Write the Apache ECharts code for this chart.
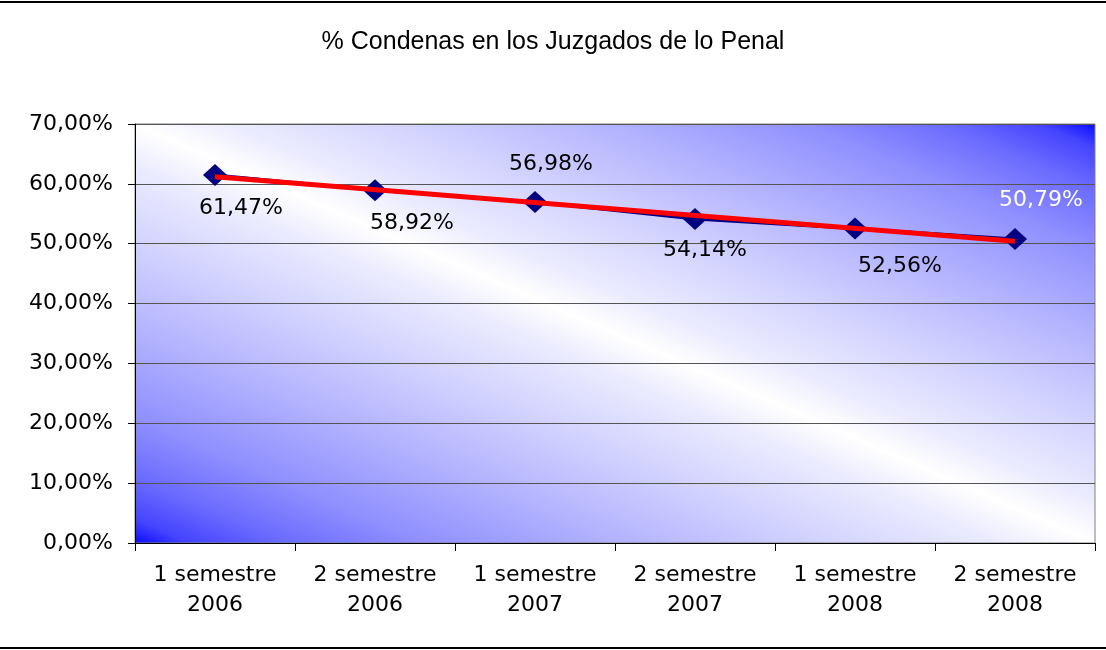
<!DOCTYPE html>
<html>
<head>
<meta charset="utf-8">
<script src="https://cdn.jsdelivr.net/npm/echarts@6/dist/echarts.min.js"></script>
<style>
html,body{margin:0;padding:0;background:#fff;}
#chart{width:1106px;height:650px;}
</style>
</head>
<body>
<div id="chart"></div>
<script>
const categories = ['1 semestre\n2006', '2 semestre\n2006', '1 semestre\n2007', '2 semestre\n2007', '1 semestre\n2008', '2 semestre\n2008'];
const condenas = [61.47, 58.92, 56.98, 54.14, 52.56, 50.79];
const trendEnds = [61.2, null, null, null, null, 50.4];
const labelPlacement = [[26, 33], [37, 33], [16, -38], [10, 31], [45, 38], [26, -39]];
const labelColors = ['#000', '#000', '#000', '#000', '#000', '#fff'];

const fmt = v => v.toFixed(2).replace('.', ',') + '%';
const FONT = 'DejaVu Sans';

const bg = {
  type: 'linear', x: 0.34, y: 1.34, x2: 0.66, y2: -0.34,
  colorStops: [
    {offset: 0, color: 'rgb(8,8,255)'},
    {offset: 0.03, color: 'rgb(68,68,255)'},
    {offset: 0.08, color: 'rgb(107,107,255)'},
    {offset: 0.15, color: 'rgb(143,143,255)'},
    {offset: 0.25, color: 'rgb(177,177,255)'},
    {offset: 0.35, color: 'rgb(208,208,255)'},
    {offset: 0.45, color: 'rgb(235,235,255)'},
    {offset: 0.5, color: 'rgb(255,255,255)'},
    {offset: 0.55, color: 'rgb(235,235,255)'},
    {offset: 0.65, color: 'rgb(208,208,255)'},
    {offset: 0.75, color: 'rgb(177,177,255)'},
    {offset: 0.85, color: 'rgb(143,143,255)'},
    {offset: 0.92, color: 'rgb(107,107,255)'},
    {offset: 0.97, color: 'rgb(68,68,255)'},
    {offset: 1, color: 'rgb(8,8,255)'}
  ]
};

const chart = echarts.init(document.getElementById('chart'), null, {renderer: 'canvas'});
chart.setOption({
  animation: false,
  backgroundColor: '#fff',
  title: {
    text: '% Condenas en los Juzgados de lo Penal',
    left: 'center',
    top: 25,
    textStyle: {fontFamily: 'Liberation Sans', fontSize: 25, fontWeight: 'normal', color: '#000', lineHeight: 25}
  },
  graphic: [{
    type: 'rect',
    shape: {x: -5, y: 2, width: 1116, height: 646},
    style: {fill: 'none', stroke: '#000', lineWidth: 2},
    silent: true
  }],
  grid: {
    left: 135, right: 11, top: 124, bottom: 107,
    show: true,
    backgroundColor: bg,
    borderColor: '#808080',
    borderWidth: 1
  },
  xAxis: {
    type: 'category',
    data: categories,
    boundaryGap: true,
    axisLine: {lineStyle: {color: '#000', width: 1}},
    axisTick: {show: true, length: 8, lineStyle: {color: '#000'}},
    axisLabel: {
      fontFamily: FONT, fontSize: 22, color: '#000',
      lineHeight: 30, margin: 17, interval: 0
    }
  },
  yAxis: {
    type: 'value',
    min: 0, max: 70, interval: 10,
    axisLine: {show: true, lineStyle: {color: '#000', width: 1}},
    axisTick: {show: true, length: 7, lineStyle: {color: '#000'}},
    splitLine: {show: true, lineStyle: {color: '#555', width: 1}},
    axisLabel: {
      fontFamily: FONT, fontSize: 22, color: '#000', margin: 22,
      formatter: v => fmt(v)
    }
  },
  series: [
    {
      type: 'line',
      data: condenas.map((v, i) => ({
        value: v,
        label: {
          show: true,
          position: 'inside',
          offset: labelPlacement[i],
          color: labelColors[i],
          fontFamily: FONT,
          fontSize: 22,
          formatter: p => fmt(p.value)
        }
      })),
      symbol: 'diamond',
      symbolSize: [24, 22],
      itemStyle: {color: '#000080'},
      lineStyle: {color: '#000080', width: 3},
      z: 3
    },
    {
      type: 'line',
      data: trendEnds,
      connectNulls: true,
      showSymbol: false,
      symbol: 'none',
      lineStyle: {color: '#ff0000', width: 5},
      z: 4,
      silent: true
    }
  ]
});
</script>
</body>
</html>
